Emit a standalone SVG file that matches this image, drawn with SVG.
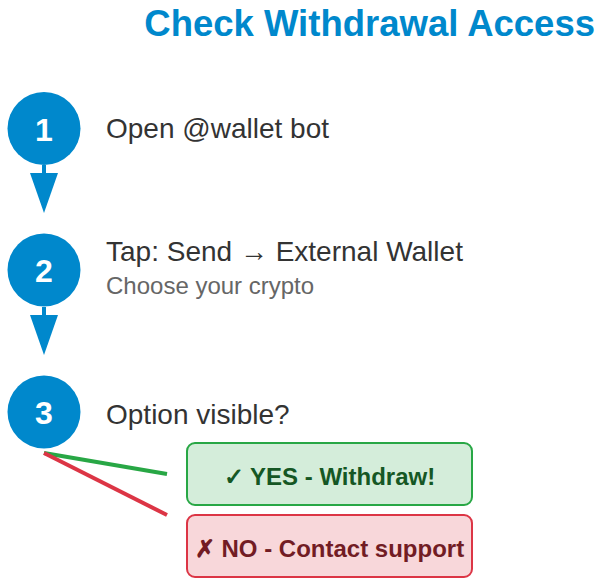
<svg xmlns="http://www.w3.org/2000/svg" width="607" height="584" viewBox="0 0 607 584">
<style>
.title{font-family:"Liberation Sans",Arial,sans-serif;font-size:36.5px;font-weight:bold;fill:#0088cc}
.num{font-family:"Liberation Sans",Arial,sans-serif;font-size:32px;font-weight:bold;fill:#fff;text-anchor:middle}
.step{font-family:"Liberation Sans",Arial,sans-serif;font-size:28px;fill:#333}
.sub{font-family:"Liberation Sans",Arial,sans-serif;font-size:24px;fill:#666}
.circ{fill:#0088cc}
.res{font-family:"Liberation Sans",Arial,sans-serif;font-size:24px;font-weight:bold;text-anchor:middle}
</style>
<defs>
<marker id="arr" markerWidth="10" markerHeight="7" refX="0" refY="3.5" orient="auto" markerUnits="strokeWidth">
<polygon points="0,0 10,3.5 0,7" fill="#0088cc"/>
</marker>
</defs>
<text class="title" x="595" y="36" text-anchor="end">Check Withdrawal Access</text>
<g id="connectors">
<line x1="44" y1="165" x2="44" y2="173" stroke="#0088cc" stroke-width="4" marker-end="url(#arr)"/>
<line x1="44" y1="307" x2="44" y2="315" stroke="#0088cc" stroke-width="4" marker-end="url(#arr)"/>
<line x1="44" y1="453" x2="167" y2="474" stroke="#28a745" stroke-width="4"/>
<line x1="44" y1="453" x2="167" y2="515" stroke="#dc3545" stroke-width="4"/>
</g>
<g id="step1">
<circle class="circ" cx="44" cy="128.5" r="36.5"/>
<text class="num" x="44" y="141">1</text>
<text class="step" x="106" y="138">Open @wallet bot</text>
</g>
<g id="step2">
<circle class="circ" cx="44" cy="270" r="36.5"/>
<text class="num" x="44" y="282">2</text>
<text class="step" x="106" y="261">Tap: Send → External Wallet</text>
<text class="sub" x="106" y="294">Choose your crypto</text>
</g>
<g id="step3">
<circle class="circ" cx="44" cy="412" r="36.5"/>
<text class="num" x="44" y="424">3</text>
<text class="step" x="106" y="424">Option visible?</text>
</g>
<g id="yes">
<rect x="187" y="443" width="285" height="62" rx="8" fill="#d4edda" stroke="#28a745" stroke-width="2"/>
<text class="res" x="329.5" y="485" fill="#155724">✓ YES - Withdraw!</text>
</g>
<g id="no">
<rect x="187" y="515" width="285" height="62" rx="8" fill="#f8d7da" stroke="#dc3545" stroke-width="2"/>
<text class="res" x="329.5" y="557" fill="#721c24">✗ NO - Contact support</text>
</g>
</svg>
